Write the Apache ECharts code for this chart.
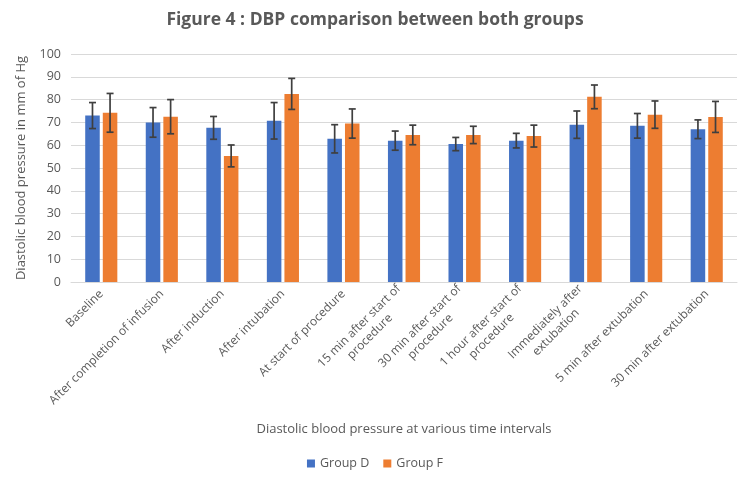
<!DOCTYPE html>
<html>
<head>
<meta charset="utf-8">
<script src="https://cdn.jsdelivr.net/npm/echarts@6/dist/echarts.min.js"></script>
<style>
html,body{margin:0;padding:0;background:#fff;}
#chart{width:750px;height:478px;}
</style>
</head>
<body>
<div id="chart"></div>
<script>
const categories = [
  'Baseline',
  'After completion of infusion',
  'After induction',
  'After intubation',
  'At start of procedure',
  '15 min after start of\nprocedure',
  '30 min after start of\nprocedure',
  '1 hour after start of\nprocedure',
  'Immediately after\nextubation',
  '5 min after extubation',
  '30 min after extubation'
];
const groupD = [73, 70, 67.6, 70.7, 62.8, 62, 60.5, 62, 69, 68.5, 67];
const groupF = [74.2, 72.5, 55.3, 82.5, 69.5, 64.5, 64.5, 64, 81.2, 73.4, 72.4];
const sdD = [5.7, 6.5, 5, 8, 6.2, 4.2, 2.9, 3.2, 6, 5.4, 4.1];
const sdF = [8.5, 7.5, 4.8, 6.8, 6.4, 4.3, 3.8, 4.8, 5.2, 6, 6.8];
const yTicks = [0, 100, 10];

const BAR_W = 0.24, BAR_GAP = 0.21;
const FONT = '"Open Sans", sans-serif';
const GREY = '#595959';

function errSeries(name, means, sds, side) {
  return {
    type: 'custom',
    name: name + ' err',
    z: 5,
    data: means.map((m, i) => [i, m, sds[i]]),
    encode: { x: 0, y: 1 },
    renderItem: function (params, api) {
      const i = api.value(0), m = api.value(1), s = api.value(2);
      const band = api.size([1, 0])[0];
      const w = band * BAR_W, g = w * BAR_GAP;
      const dx = side * (w + g) / 2;
      const hi = api.coord([i, m + s]);
      const lo = api.coord([i, m - s]);
      const x = hi[0] + dx, cap = 3.5;
      const st = { stroke: '#3f3f3f', lineWidth: 1.7 };
      return {
        type: 'group',
        children: [
          { type: 'line', shape: { x1: x, y1: hi[1], x2: x, y2: lo[1] }, style: st },
          { type: 'line', shape: { x1: x - cap, y1: hi[1], x2: x + cap, y2: hi[1] }, style: st },
          { type: 'line', shape: { x1: x - cap, y1: lo[1], x2: x + cap, y2: lo[1] }, style: st }
        ]
      };
    }
  };
}

const chart = echarts.init(document.getElementById('chart'));
chart.setOption({
  animation: false,
  textStyle: { fontFamily: FONT },
  title: {
    text: 'Figure 4 : DBP comparison between both groups',
    left: 'center',
    top: 6,
    textStyle: { fontFamily: FONT, fontSize: 17.5, fontWeight: 'bold', color: GREY }
  },
  legend: {
    data: ['Group D', 'Group F'],
    bottom: 3,
    left: 'center',
    icon: 'rect',
    itemWidth: 8,
    itemHeight: 8,
    itemGap: 14,
    textStyle: { fontFamily: FONT, fontSize: 12.5, color: GREY }
  },
  grid: { left: 71, right: 13, top: 54, bottom: 196, containLabel: false },
  xAxis: {
    type: 'category',
    data: categories,
    name: 'Diastolic blood pressure at various time intervals',
    nameLocation: 'middle',
    nameGap: 141,
    nameTextStyle: { fontFamily: FONT, fontSize: 13, color: GREY },
    axisLine: { lineStyle: { color: '#d9d9d9', width: 1 } },
    axisTick: { show: false },
    axisLabel: {
      rotate: 45, interval: 0, margin: 10,
      formatter: v => v.split('\n').map(l => '{c|' + l + '}').join('\n'),
      rich: { c: { align: 'center', fontFamily: FONT, fontSize: 12, color: GREY, lineHeight: 15 } }
    }
  },
  yAxis: {
    type: 'value',
    min: yTicks[0],
    max: yTicks[1],
    interval: yTicks[2],
    name: 'Diastolic blood pressure in mm of Hg',
    nameLocation: 'middle',
    nameGap: 43,
    nameTextStyle: { fontFamily: FONT, fontSize: 13, color: GREY },
    axisLine: { show: false },
    axisTick: { show: false },
    axisLabel: { fontFamily: FONT, fontSize: 12.5, color: GREY, margin: 10 },
    splitLine: { lineStyle: { color: '#d9d9d9', width: 1 } }
  },
  series: [
    { type: 'bar', name: 'Group D', data: groupD, barWidth: (BAR_W * 100) + '%', barGap: (BAR_GAP * 100) + '%', itemStyle: { color: '#4472C4' } },
    { type: 'bar', name: 'Group F', data: groupF, barWidth: (BAR_W * 100) + '%', itemStyle: { color: '#ED7D31' } },
    errSeries('Group D', groupD, sdD, -1),
    errSeries('Group F', groupF, sdF, 1)
  ]
});
</script>
</body>
</html>
